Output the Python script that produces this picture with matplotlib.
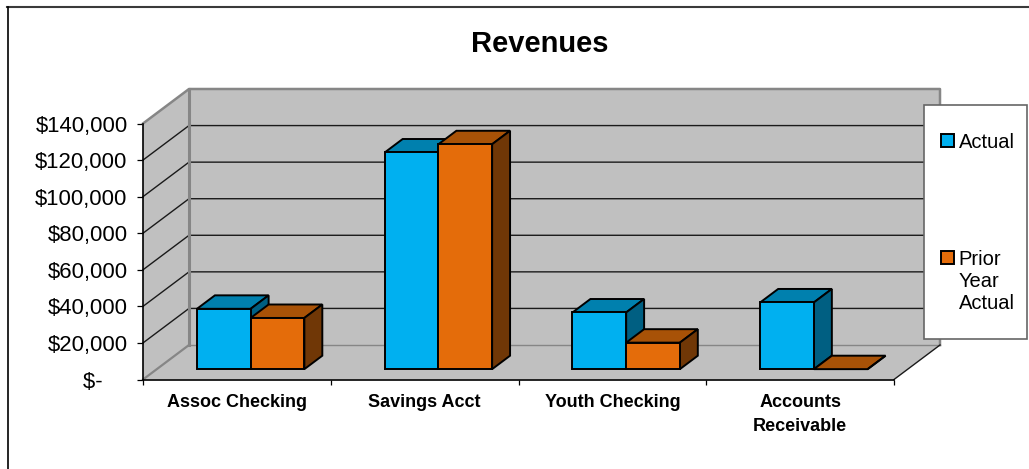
import numpy as np
import matplotlib
matplotlib.use("Agg")
import matplotlib.pyplot as plt
from matplotlib.lines import Line2D
from matplotlib.patches import Polygon, Rectangle

plt.rcParams['font.family'] = ['Liberation Sans', 'DejaVu Sans']

categories = ["Assoc Checking", "Savings Acct", "Youth Checking", "Accounts\nReceivable"]
actual = [33000, 118500, 31000, 36500]
prior_year = [28000, 123000, 14500, 0]
series_names = ["Actual", "Prior\nYear\nActual"]
y_ticks = [0, 20000, 40000, 60000, 80000, 100000, 120000, 140000]

W, H = 1029, 469
# plot frame in pixels (front plane)
LEFT, RIGHT, TOP, BOTTOM = 143, 894, 123.5, 379.5
DEPTH_PX = (46, 34.5)

BAR_W = 0.286
D_FRONT, D_BACK = 0.30, 0.69

BLUE = ('#00B0F0', '#0080AE', '#005F82')
ORANGE = ('#E46C0A', '#A85207', '#703706')


def money(v):
    # zero sits left of the column, like an accounting format
    return "$-    " if v == 0 else f"${v:,.0f}"


fig = plt.figure(figsize=(W / 100, H / 100), dpi=100, facecolor='white')
ax = fig.add_axes([LEFT / W, 1 - BOTTOM / H, (RIGHT - LEFT) / W, (BOTTOM - TOP) / H])
ax.set_xlim(0, len(categories))
ax.set_ylim(0, y_ticks[-1])
ax.patch.set_visible(False)

# depth vector in data units
dx = DEPTH_PX[0] * len(categories) / (RIGHT - LEFT)
dy = DEPTH_PX[1] * y_ticks[-1] / (BOTTOM - TOP)
n = len(categories)
top = y_ticks[-1]


def add_poly(pts, fc, ec, lw=1.4, z=1):
    ax.add_patch(Polygon(pts, closed=True, facecolor=fc, edgecolor=ec, linewidth=lw,
                         zorder=z, clip_on=False, joinstyle='miter'))


# walls and floor
WALL = '#C0C0C0'
EDGE = '#868686'
add_poly([(0, 0), (dx, dy), (dx, top + dy), (0, top)], WALL, 'none', 0)
add_poly([(dx, dy), (n + dx, dy), (n + dx, top + dy), (dx, top + dy)], WALL, 'none', 0)
add_poly([(0, 0), (n, 0), (n + dx, dy), (dx, dy)], WALL, 'none', 0)

# gridlines
for v in y_ticks[1:-1]:
    ax.plot([0, dx, n + dx], [v, v + dy, v + dy], color='#1a1a1a', lw=1, zorder=2, clip_on=False)
ax.plot([0, dx, n + dx, n + dx], [top, top + dy, top + dy, dy], color=EDGE, lw=1.8, zorder=2, clip_on=False)
ax.plot([0, dx], [0, dy], color=EDGE, lw=1.6, zorder=2, clip_on=False)
ax.plot([dx, dx], [dy, top + dy], color=EDGE, lw=2.2, zorder=2, clip_on=False)
ax.plot([dx, n + dx], [dy, dy], color=EDGE, lw=1, zorder=2, clip_on=False)
ax.plot([n, n + dx], [0, dy], color='#1a1a1a', lw=1, zorder=2, clip_on=False)


def bar3d(x0, value, colors, z):
    x1 = x0 + BAR_W
    ox, oy = D_FRONT * dx, D_FRONT * dy
    bx, by = (D_BACK - D_FRONT) * dx, (D_BACK - D_FRONT) * dy
    fl, fr = x0 + ox, x1 + ox
    add_poly([(fl, oy + value), (fl + bx, oy + value + by), (fr + bx, oy + value + by), (fr, oy + value)],
             colors[1], 'black', z=z)
    add_poly([(fr, oy), (fr + bx, oy + by), (fr + bx, oy + value + by), (fr, oy + value)],
             colors[2], 'black', z=z)
    if value > 0:
        add_poly([(fl, oy), (fr, oy), (fr, oy + value), (fl, oy + value)], colors[0], 'black', z=z)


for i in range(n):
    bar3d(i + 0.5 - BAR_W, actual[i], BLUE, 3 + i * 2)
    bar3d(i + 0.5, prior_year[i], ORANGE, 4 + i * 2)

# axes
for s in ('top', 'right'):
    ax.spines[s].set_visible(False)
for s in ('left', 'bottom'):
    ax.spines[s].set_color('black')
    ax.spines[s].set_linewidth(1.2)
    ax.spines[s].set_zorder(20)

ax.set_yticks(y_ticks)
ax.set_yticklabels([money(v) for v in y_ticks], fontsize=15.9)
ax.tick_params(axis='y', length=4.3, width=0.9, pad=6.8)
ax.set_xticks(range(n + 1))
ax.set_xticklabels([])
ax.tick_params(axis='x', which='major', length=3.8, width=0.9)
ax.set_xticks(np.arange(n) + 0.5, minor=True)
ax.set_xticklabels(categories, minor=True, fontsize=13, fontweight='bold', linespacing=1.55)
ax.tick_params(axis='x', which='minor', length=0, pad=10.2)

fig.text(540 / W, 1 - 43.5 / H, "Revenues", fontsize=21, fontweight='bold', ha='center', va='center')

# legend box
fig.add_artist(Rectangle((924 / W, 1 - 339 / H), 103 / W, 234 / H, transform=fig.transFigure,
                         facecolor='white', edgecolor='#666666', linewidth=1.2, zorder=30))
legend_y = [141, 258]
for name, col, ly in zip(series_names, (BLUE[0], ORANGE[0]), legend_y):
    fig.add_artist(Rectangle((940.5 / W, 1 - (ly + 6.5) / H), 13 / W, 13 / H, transform=fig.transFigure,
                             facecolor=col, edgecolor='black', linewidth=1.4, zorder=31))
    fig.text(958.5 / W, 1 - (ly - 8) / H, name, fontsize=14.5, va='top', ha='left',
             linespacing=1.2, zorder=31)

# outer chart frame: only the top and left edges show in the picture
fig.add_artist(Line2D([7 / W, 1], [1 - 7.5 / H, 1 - 7.5 / H], transform=fig.transFigure,
                      color='#3a3a3a', linewidth=1.5, zorder=40))
fig.add_artist(Line2D([7.5 / W, 7.5 / W], [0, 1 - 7.5 / H], transform=fig.transFigure,
                      color='black', linewidth=1.2, zorder=40))

fig.savefig("out.png", dpi=100)
